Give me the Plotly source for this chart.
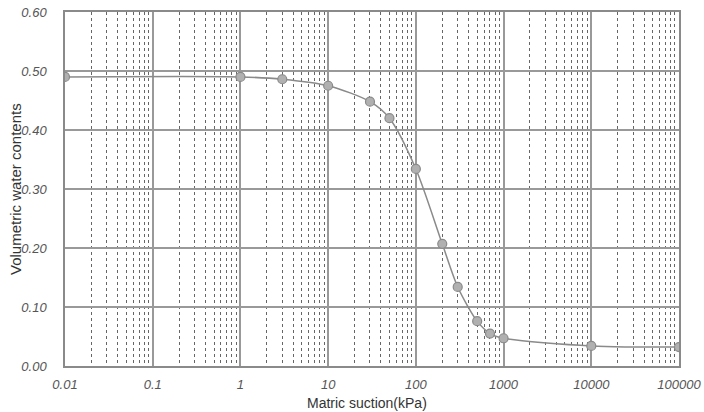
import plotly.graph_objects as go

suction_kpa = [0.01, 1, 3, 10, 30, 50, 100, 200, 300, 500, 700, 1000, 10000, 100000]
water_content = [0.490, 0.490, 0.486, 0.475, 0.448, 0.420, 0.334, 0.207, 0.134, 0.076, 0.055, 0.047, 0.034, 0.032]

x_tick_vals = [0.01, 0.1, 1, 10, 100, 1000, 10000, 100000]
x_tick_text = ["0.01", "0.1", "1", "10", "100", "1000", "10000", "100000"]

x_title = "Matric suction(kPa)"
y_title = "Volumetric water contents"

fig = go.Figure()
fig.add_trace(go.Scatter(
    x=suction_kpa, y=water_content,
    mode="lines+markers",
    line=dict(color="#8a8a8a", width=1.5, shape="spline", smoothing=0.8),
    marker=dict(size=9, color="#b0b0b0", line=dict(color="#8a8a8a", width=1.2)),
    showlegend=False,
))

tick_font = dict(family="Liberation Sans, Arial", size=13, color="#555555", style="italic")
title_font = dict(family="Liberation Sans, Arial", size=15, color="#333333")

fig.update_xaxes(
    type="log",
    range=[-2, 5],
    tickvals=x_tick_vals,
    ticktext=x_tick_text,
    tickfont=tick_font,
    showgrid=True, gridcolor="#999999", gridwidth=2,
    minor=dict(dtick="D1", showgrid=True, gridcolor="#666666", griddash="dot", gridwidth=1, ticks=""),
    showline=True, linecolor="#8a8a8a", linewidth=1.5, mirror=True,
    ticks="outside", ticklen=6, tickcolor="rgba(0,0,0,0)",
    zeroline=False,
    automargin=False,
)
fig.update_yaxes(
    range=[0, 0.6],
    dtick=0.1,
    tickformat=".2f",
    tickfont=tick_font,
    showgrid=True, gridcolor="#999999", gridwidth=2,
    showline=True, linecolor="#8a8a8a", linewidth=1.5, mirror=True,
    ticks="outside", ticklen=14, tickcolor="rgba(0,0,0,0)",
    zeroline=False,
    automargin=False,
)
fig.add_annotation(
    text=x_title, xref="paper", yref="paper", x=0.4915, y=-0.1315,
    xanchor="center", yanchor="bottom", showarrow=False,
    font=dict(family="Liberation Sans, Arial", size=14, color="#333333"),
)
fig.add_annotation(
    text=y_title, xref="paper", yref="paper", x=-0.0814, y=0.5,
    xanchor="center", yanchor="middle", textangle=-90, showarrow=False,
    font=title_font,
)
fig.update_layout(
    width=704, height=412,
    margin=dict(l=65, r=25, t=12, b=46),
    paper_bgcolor="white", plot_bgcolor="white",
)
fig.write_html("out.html")
